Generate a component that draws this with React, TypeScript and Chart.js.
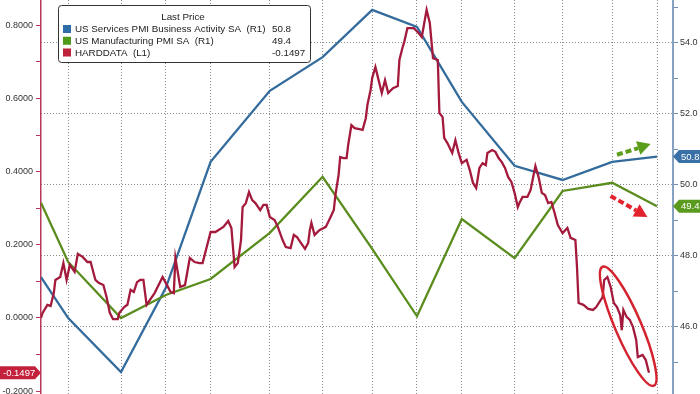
import React, { useEffect, useRef } from "react";
import { Chart, registerables } from "chart.js";

Chart.register(...registerables);

// ---- data ----
// x values are day numbers since the start of the window
const monthDays = [17, 50, 78, 106, 143, 176, 207, 235, 263, 296, 326, 357, 385];
const pmiDays = [0, 17, 50, 78, 106, 143, 176, 207, 235, 263, 296, 326, 357, 385];
const servicesPMI = [47.4, 46.25, 44.73, 47.1, 50.65, 52.65, 53.6, 54.93, 54.45, 52.34, 50.54, 50.14, 50.65, 50.8];
const manufacturingPMI = [49.5, 47.83, 46.25, 46.9, 47.35, 48.65, 50.23, 48.2, 46.3, 49.04, 47.94, 49.83, 50.06, 49.4];

const hardDays = [
  0, 1, 4, 6, 8, 9, 12, 14, 16, 18, 21, 23, 26, 29, 31, 34, 36, 39, 41, 43,
  45, 48, 49, 52, 54, 56, 58, 60, 62, 64, 66, 68, 71, 76, 78, 81, 83, 84, 87, 90,
  93, 96, 99, 101, 106, 109, 114, 117, 119, 121, 123, 125, 126, 128, 130, 132, 134, 137, 139, 141,
  143, 146, 148, 151, 153, 156, 158, 160, 162, 165, 167, 168, 169, 171, 174, 178, 181, 183, 184, 186,
  187, 189, 191, 192, 194, 196, 199, 201, 203, 204, 206, 207, 209, 211, 213, 215, 217, 220, 223, 224,
  226, 227, 229, 233, 236, 238, 241, 243, 245, 248, 249, 251, 252, 254, 257, 259, 261, 263, 266, 268,
  270, 272, 274, 276, 278, 279, 282, 284, 286, 288, 290, 292, 294, 296, 298, 299, 301, 304, 306, 309,
  311, 313, 315, 317, 319, 321, 323, 326, 329, 331, 334, 335, 336, 339, 342, 345, 347, 351, 352, 354,
  356, 358, 360, 362, 363, 364, 366, 368, 370, 372, 373, 376, 378, 380,
];
const hardValues = [
  0.0, 0.014, 0.036, 0.033, 0.068, 0.104, 0.112, 0.15, 0.104, 0.145, 0.126, 0.175, 0.167, 0.153, 0.153, 0.104, 0.096, 0.09, 0.057, 0.014,
  -0.003, -0.003, 0.014, 0.03, 0.036, 0.077, 0.071, 0.098, 0.104, 0.104, 0.036, 0.049, 0.068, 0.112, 0.096, 0.071, 0.068, 0.164, 0.085, 0.09,
  0.164, 0.153, 0.15, 0.15, 0.235, 0.235, 0.249, 0.265, 0.246, 0.139, 0.15, 0.213, 0.303, 0.314, 0.344, 0.322, 0.314, 0.295, 0.309, 0.309,
  0.276, 0.268, 0.249, 0.213, 0.194, 0.191, 0.227, 0.221, 0.208, 0.189, 0.205, 0.24, 0.26, 0.227, 0.24, 0.249, 0.276, 0.295, 0.336, 0.391,
  0.44, 0.437, 0.437, 0.473, 0.527, 0.519, 0.516, 0.514, 0.546, 0.582, 0.623, 0.656, 0.686, 0.65, 0.615, 0.65, 0.615, 0.628, 0.634, 0.705,
  0.74, 0.754, 0.792, 0.792, 0.779, 0.768, 0.842, 0.806, 0.71, 0.705, 0.56, 0.549, 0.492, 0.478, 0.451, 0.486, 0.451, 0.423, 0.432, 0.404,
  0.369, 0.355, 0.41, 0.423, 0.418, 0.451, 0.459, 0.454, 0.437, 0.426, 0.41, 0.385, 0.372, 0.342, 0.303, 0.314, 0.331, 0.331, 0.35, 0.415,
  0.385, 0.342, 0.336, 0.314, 0.317, 0.287, 0.254, 0.232, 0.246, 0.219, 0.213, 0.139, 0.041, 0.036, 0.025, 0.022, 0.03, 0.057, 0.104, 0.112,
  0.085, 0.041, 0.03, 0.008, -0.033, 0.022, 0.003, -0.005, -0.025, -0.06, -0.107, -0.101, -0.115, -0.1497,
];

const leftTicks = [-0.2, -0.1, 0, 0.1, 0.2, 0.3, 0.4, 0.5, 0.6, 0.7, 0.8];
const rightTicks = [45, 46, 47, 48, 49, 50, 51, 52, 53, 54, 55];

const seriesNames = ["US Services PMI Business Activity SA  (R1)", "US Manufacturing PMI SA  (R1)", "HARDDATA  (L1)"];
const lastPrices = ["50.8", "49.4", "-0.1497"];

// annotation anchors (data units: day, value)
const ellipseEnds = { a: [351, 0.14], b: [383, -0.185] };
const greenArrow = { from: [360, 50.85], to: [381, 51.15] };
const redArrow = { from: [356, 49.69], to: [379, 49.1] };

const BLUE = "#336b9c";
const GREEN = "#5a8c1e";
const RED = "#a31a3c";
const GRID = "#8a8a8a";
const FONT = '"Liberation Sans", Arial, sans-serif';

function drawArrow(ctx: CanvasRenderingContext2D, x1: number, y1: number, x2: number, y2: number, color: string) {
  const dx = x2 - x1, dy = y2 - y1;
  const len = Math.hypot(dx, dy);
  const ux = dx / len, uy = dy / len;
  const head = 13, half = 7;
  const bx = x2 - ux * head, by = y2 - uy * head;
  ctx.save();
  ctx.strokeStyle = color;
  ctx.fillStyle = color;
  ctx.lineWidth = 4;
  ctx.setLineDash([6, 3]);
  ctx.beginPath();
  ctx.moveTo(x1, y1);
  ctx.lineTo(bx, by);
  ctx.stroke();
  ctx.setLineDash([]);
  ctx.beginPath();
  ctx.moveTo(x2, y2);
  ctx.lineTo(bx - uy * half, by + ux * half);
  ctx.lineTo(bx + uy * half, by - ux * half);
  ctx.closePath();
  ctx.fill();
  ctx.restore();
}

function drawTag(ctx: CanvasRenderingContext2D, text: string, y: number, color: string, side: "left" | "right", edge: number, outer: number) {
  const h = 6.5;
  ctx.save();
  ctx.fillStyle = color;
  ctx.beginPath();
  if (side === "right") {
    ctx.moveTo(edge, y);
    ctx.lineTo(edge + 6, y - h);
    ctx.lineTo(outer, y - h);
    ctx.lineTo(outer, y + h);
    ctx.lineTo(edge + 6, y + h);
  } else {
    ctx.moveTo(edge, y);
    ctx.lineTo(edge - 6, y - h);
    ctx.lineTo(outer, y - h);
    ctx.lineTo(outer, y + h);
    ctx.lineTo(edge - 6, y + h);
  }
  ctx.closePath();
  ctx.fill();
  ctx.fillStyle = "#fff";
  ctx.font = `9.5px ${FONT}`;
  ctx.textBaseline = "middle";
  ctx.textAlign = "left";
  ctx.fillText(text, side === "right" ? edge + 8 : outer + 3, y + 0.5);
  ctx.restore();
}

const overlayPlugin = {
  id: "overlay",
  afterDraw(chart: any) {
    const ctx: CanvasRenderingContext2D = chart.ctx;
    const xs = chart.scales.x, yl = chart.scales.yL, yr = chart.scales.yR;
    const area = chart.chartArea;

    // ellipse around the latest HARDDATA drop
    const ax = xs.getPixelForValue(ellipseEnds.a[0]), ay = yl.getPixelForValue(ellipseEnds.a[1]);
    const bx = xs.getPixelForValue(ellipseEnds.b[0]), by = yl.getPixelForValue(ellipseEnds.b[1]);
    ctx.save();
    ctx.strokeStyle = "#d3232f";
    ctx.lineWidth = 2.5;
    ctx.beginPath();
    ctx.ellipse((ax + bx) / 2, (ay + by) / 2, Math.hypot(bx - ax, by - ay) / 2, 13, Math.atan2(by - ay, bx - ax), 0, Math.PI * 2);
    ctx.stroke();
    ctx.restore();

    drawArrow(ctx, xs.getPixelForValue(greenArrow.from[0]), yr.getPixelForValue(greenArrow.from[1]),
      xs.getPixelForValue(greenArrow.to[0]), yr.getPixelForValue(greenArrow.to[1]), "#5c9e1c");
    drawArrow(ctx, xs.getPixelForValue(redArrow.from[0]), yr.getPixelForValue(redArrow.from[1]),
      xs.getPixelForValue(redArrow.to[0]), yr.getPixelForValue(redArrow.to[1]), "#e3222e");

    // last value tags
    const lastS = servicesPMI[servicesPMI.length - 1];
    const lastM = manufacturingPMI[manufacturingPMI.length - 1];
    const lastH = hardValues[hardValues.length - 1];
    drawTag(ctx, lastS.toFixed(1), yr.getPixelForValue(lastS), "#3a70a8", "right", area.right, chart.width);
    drawTag(ctx, lastM.toFixed(1), yr.getPixelForValue(lastM), "#5a9a1e", "right", area.right, chart.width);
    drawTag(ctx, lastH.toFixed(4), yl.getPixelForValue(lastH), "#c3203c", "left", area.left, 0);

    // legend box
    const x0 = 58, y0 = 5, w = 252, h = 57;
    ctx.save();
    ctx.beginPath();
    ctx.roundRect(x0 + 0.5, y0 + 0.5, w, h, 3);
    ctx.fillStyle = "#fff";
    ctx.fill();
    ctx.strokeStyle = "#333";
    ctx.lineWidth = 1;
    ctx.stroke();
    ctx.font = `9.8px ${FONT}`;
    ctx.fillStyle = "#222";
    ctx.textBaseline = "middle";
    ctx.textAlign = "center";
    ctx.fillText("Last Price", x0 + 125, y0 + 12);
    const swatches = ["#2e6da6", "#4f9a1a", "#c0213a"];
    ctx.textAlign = "left";
    seriesNames.forEach((name, i) => {
      const y = y0 + 24 + i * 11.75;
      ctx.fillStyle = swatches[i];
      ctx.fillRect(x0 + 5, y - 4, 8, 8);
      ctx.fillStyle = "#222";
      ctx.fillText(name, x0 + 17, y + 0.5);
      ctx.fillText(lastPrices[i], x0 + 214, y + 0.5);
    });
    ctx.restore();
  },
};

export default function App() {
  const ref = useRef<HTMLCanvasElement | null>(null);

  useEffect(() => {
    document.body.style.margin = "0";
    const canvas = ref.current!;
    const chart = new Chart(canvas, {
      type: "line",
      data: {
        datasets: [
          {
            label: "HARDDATA",
            data: hardDays.map((d, i) => ({ x: d, y: hardValues[i] })),
            borderColor: RED,
            borderWidth: 2.3,
            pointRadius: 0,
            tension: 0,
            yAxisID: "yL",
          },
          {
            label: "US Manufacturing PMI SA",
            data: pmiDays.map((d, i) => ({ x: d, y: manufacturingPMI[i] })),
            borderColor: GREEN,
            borderWidth: 2.3,
            pointRadius: 0,
            tension: 0,
            yAxisID: "yR",
          },
          {
            label: "US Services PMI Business Activity SA",
            data: pmiDays.map((d, i) => ({ x: d, y: servicesPMI[i] })),
            borderColor: BLUE,
            borderWidth: 2.3,
            pointRadius: 0,
            tension: 0,
            yAxisID: "yR",
          },
        ],
      },
      options: {
        animation: false,
        responsive: false,
        devicePixelRatio: 1,
        layout: { padding: 0 },
        plugins: { legend: { display: false }, tooltip: { enabled: false } },
        scales: {
          x: {
            type: "linear",
            min: 0,
            max: 395,
            position: "bottom",
            afterBuildTicks: (s: any) => { s.ticks = monthDays.map((v) => ({ value: v })); },
            afterFit: (s: any) => { s.height = 0; s.paddingLeft = 0; s.paddingRight = 0; },
            ticks: { display: false },
            grid: { color: GRID, lineWidth: 1, drawTicks: false },
            border: { display: false, dash: [1, 2] },
          },
          yL: {
            type: "linear",
            position: "left",
            min: -0.2077,
            max: 0.869,
            afterBuildTicks: (s: any) => { s.ticks = leftTicks.map((v) => ({ value: v })); },
            afterFit: (s: any) => { s.width = 41; s.paddingTop = 0; s.paddingBottom = 0; },
            ticks: {
              autoSkip: false,
              padding: 3,
              color: "#333",
              font: { family: FONT, size: 9 },
              callback: (v: any) => (Math.round(Number(v) * 10) % 2 === 0 ? Number(v).toFixed(4) : ""),
            },
            grid: { drawOnChartArea: false, drawTicks: true, tickLength: 5, tickColor: "#b8385a", tickWidth: 1 },
            border: { display: true, color: "#b8385a", width: 1.5 },
          },
          yR: {
            type: "linear",
            position: "right",
            min: 44.11,
            max: 55.21,
            afterBuildTicks: (s: any) => { s.ticks = rightTicks.map((v) => ({ value: v })); },
            afterFit: (s: any) => { s.width = 27; s.paddingTop = 0; s.paddingBottom = 0; },
            ticks: {
              autoSkip: false,
              padding: 2,
              color: "#333",
              font: { family: FONT, size: 9 },
              callback: (v: any) => (Math.round(Number(v)) % 2 === 0 ? Number(v).toFixed(1) : ""),
            },
            grid: {
              drawOnChartArea: true,
              drawTicks: true,
              tickLength: 5,
              tickColor: "#6f8fb3",
              color: (c: any) => (c.tick && Math.round(c.tick.value) % 2 === 0 ? GRID : "rgba(0,0,0,0)"),
              lineWidth: 1,
            },
            border: { display: true, color: "#86a2c2", width: 2, dash: [1, 2] },
          },
        },
      },
      plugins: [overlayPlugin],
    } as any);
    return () => chart.destroy();
  }, []);

  return (
    <div style={{ width: 700, height: 394, position: "relative", background: "#fff" }}>
      <canvas ref={ref} width={700} height={394} style={{ display: "block" }} />
    </div>
  );
}
